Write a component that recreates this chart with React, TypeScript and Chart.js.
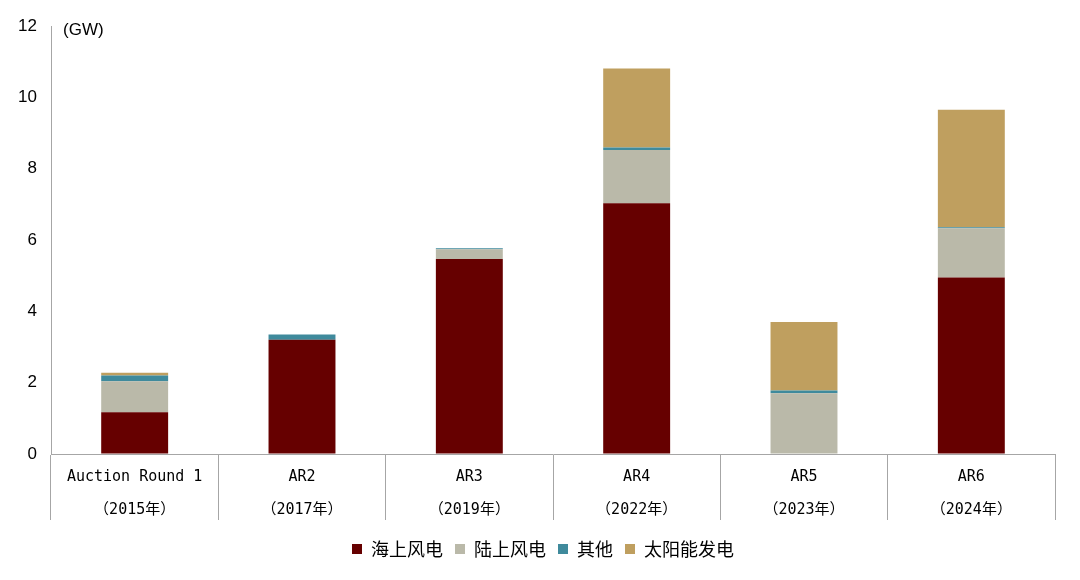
import React, { useEffect, useRef } from "react";
import { Chart, registerables } from "chart.js";

Chart.register(...registerables);

const categories: string[][] = [
  ["Auction Round 1", "（2015年）"],
  ["AR2", "（2017年）"],
  ["AR3", "（2019年）"],
  ["AR4", "（2022年）"],
  ["AR5", "（2023年）"],
  ["AR6", "（2024年）"],
];
const offshoreWind = [1.17, 3.2, 5.47, 7.03, 0, 4.95];
const onshoreWind = [0.87, 0, 0.27, 1.49, 1.7, 1.38];
const others = [0.16, 0.15, 0.03, 0.07, 0.08, 0.03];
const solar = [0.08, 0, 0, 2.22, 1.92, 3.29];
const seriesNames = ["海上风电", "陆上风电", "其他", "太阳能发电"];
const seriesColors = ["#660000", "#BAB9A9", "#3F8A9C", "#BF9F5F"];
const yMin = 0;
const yMax = 12;
const yStep = 2;
const unitLabel = "(GW)";

const unitPlugin = {
  id: "unitLabel",
  afterDraw(chart: any) {
    const { ctx, chartArea } = chart;
    ctx.save();
    ctx.font = '17px "Liberation Sans", Arial, sans-serif';
    ctx.fillStyle = "#000";
    ctx.textBaseline = "middle";
    ctx.textAlign = "left";
    ctx.fillText(unitLabel, chartArea.left + 12, chartArea.top + 4);
    ctx.restore();
  },
};

export default function App() {
  const canvasRef = useRef<HTMLCanvasElement | null>(null);

  useEffect(() => {
    if (!canvasRef.current) return;
    const data = [offshoreWind, onshoreWind, others, solar];
    const chart = new Chart(canvasRef.current, {
      type: "bar",
      data: {
        labels: categories,
        datasets: data.map((d, i) => ({
          label: seriesNames[i],
          data: d,
          backgroundColor: seriesColors[i],
          borderWidth: 0,
          barPercentage: 0.4,
          categoryPercentage: 1,
        })),
      },
      options: {
        responsive: true,
        maintainAspectRatio: false,
        animation: false,
        layout: { padding: { top: 26, right: 25, left: 31, bottom: 12 } },
        plugins: {
          tooltip: { enabled: false },
          legend: {
            position: "bottom",
            labels: {
              boxWidth: 10,
              boxHeight: 10,
              padding: 12,
              color: "#000",
              font: { family: '"Noto Sans CJK SC", sans-serif', size: 18 },
            },
          },
        },
        scales: {
          x: {
            stacked: true,
            grid: {
              display: true,
              offset: true,
              drawOnChartArea: false,
              drawTicks: true,
              tickLength: 66,
              color: "#A6A6A6",
              lineWidth: 1,
            },
            border: { display: true, color: "#A6A6A6", width: 1 },
            ticks: {
              padding: -59,
              color: "#000",
              maxRotation: 0,
              autoSkip: false,
              font: {
                family: '"DejaVu Sans Mono", "Noto Sans CJK SC", monospace',
                size: 15,
                lineHeight: 2.2,
              },
            },
            afterFit(scale: any) {
              scale.height = 74;
            },
          },
          y: {
            stacked: true,
            min: yMin,
            max: yMax,
            grid: { display: true, drawOnChartArea: false, drawTicks: false },
            border: { display: true, color: "#A6A6A6", width: 1 },
            ticks: {
              stepSize: yStep,
              mirror: true,
              crossAlign: "far",
              padding: -33,
              color: "#000",
              font: { family: '"Liberation Sans", Arial, sans-serif', size: 17 },
            },
            afterFit(scale: any) {
              scale.width = 20;
            },
          },
        },
      },
      plugins: [unitPlugin],
    });
    return () => chart.destroy();
  }, []);

  return (
    <div
      style={{
        position: "fixed",
        left: 0,
        top: 0,
        width: 1080,
        height: 580,
        background: "#fff",
      }}
    >
      <canvas ref={canvasRef} />
    </div>
  );
}
